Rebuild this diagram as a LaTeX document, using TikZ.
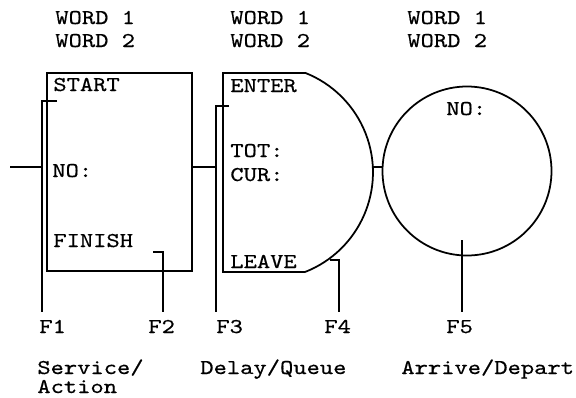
\documentclass[tikz,border=0pt]{standalone}
\usepackage{fontspec}
\newfontfamily\typefont[FakeStretch=1.2,FakeBold=0.5]{lmmono10-regular.otf}
\begin{document}
\begin{tikzpicture}[
  x=0.02cm,y=-0.02cm,
  block/.style={draw=black,line width=1pt,line join=miter},
  wire/.style={draw=black,line width=0.9pt},
  label/.style={font=\typefont\fontsize{12}{12.5}\selectfont,inner sep=0pt,anchor=base west,text=black},
]
\useasboundingbox (0,0) rectangle (576,397);
% blocks
\draw[block] (47,73) rectangle (192,271);
\draw[block] (305,73) -- (223,73) -- (223,272) -- (305,272)
  arc[start angle=68.6,end angle=-68.6,radius=107];
\draw[block] (467,171) circle[radius=84.5];
% field points
\coordinate (in) at (10,167);
\coordinate (f1a) at (57,101);
\coordinate (f1b) at (42,101);
\coordinate (f1c) at (42,312);
\coordinate (f2a) at (153,252);
\coordinate (f2b) at (163,252);
\coordinate (f2c) at (163,312);
\coordinate (f3a) at (229,106);
\coordinate (f3b) at (216,106);
\coordinate (f3c) at (216,312);
\coordinate (f4a) at (330,260);
\coordinate (f4b) at (339,260);
\coordinate (f4c) at (339,312);
\coordinate (f5a) at (462,240);
\coordinate (f5c) at (462,312);
\coordinate (out1) at (192,167);
\coordinate (out2) at (373,167);
\coordinate (in3) at (382,167);
\draw[wire] (in) -- (in-|f1b);
\draw[wire] (f1a) -- (f1b) -- (f1c);
\draw[wire] (f2a) -- (f2b) -- (f2c);
\draw[wire] (out1) -- (out1-|f3b);
\draw[wire] (f3a) -- (f3b) -- (f3c);
\draw[wire] (f4a) -- (f4b) -- (f4c);
\draw[wire] (out2) -- (in3);
\draw[wire] (f5a) -- (f5c);
% words
\node[label] (wa1) at (55,24) {WORD 1};
\node[label] (wa2) at (55,47) {WORD 2};
\node[label] (wb1) at (230,24) {WORD 1};
\node[label] (wb2) at (230,47) {WORD 2};
\node[label] (wc1) at (407,24) {WORD 1};
\node[label] (wc2) at (407,47) {WORD 2};
% inside
\node[label] (start) at (53,91) {START};
\node[label] (no1) at (52,177) {NO:};
\node[label] (finish) at (53,247) {FINISH};
\node[label] (enter) at (230,92) {ENTER};
\node[label] (tot) at (230,157) {TOT:};
\node[label] (cur) at (230,181) {CUR:};
\node[label] (leave) at (230,268) {LEAVE};
\node[label] (no2) at (446,115) {NO:};
% fields
\node[label] (F1) at (39,333) {F1};
\node[label] (F2) at (148,333) {F2};
\node[label] (F3) at (216,333) {F3};
\node[label] (F4) at (324,333) {F4};
\node[label] (F5) at (446,333) {F5};
% kinds
\node[label] (serv) at (37,374) {Service/};
\node[label] (act) at (37,393) {Action};
\node[label] (delay) at (200,374) {Delay/Queue};
\node[label] (arr) at (401,374) {Arrive/Depart};
\end{tikzpicture}
\end{document}
